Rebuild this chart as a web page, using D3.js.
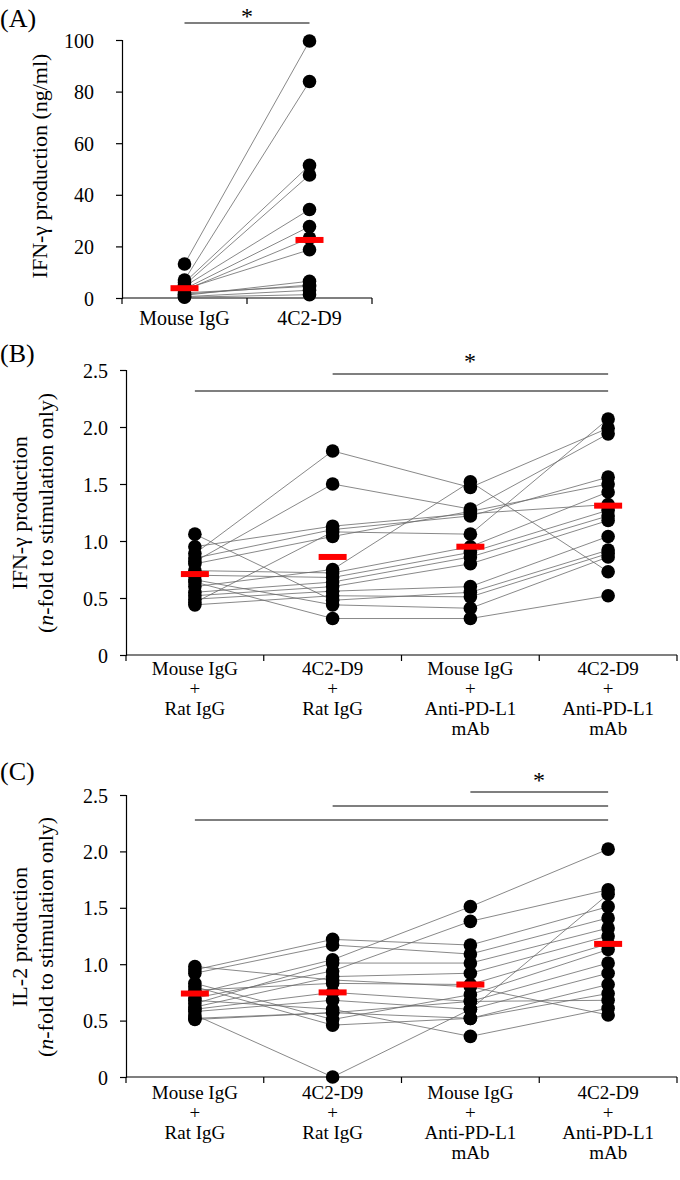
<!DOCTYPE html>
<html><head><meta charset="utf-8">
<script src="https://cdn.jsdelivr.net/npm/d3@7"></script>
<style>body{margin:0;background:#fff}svg{display:block}text{font-family:"Liberation Serif","Times New Roman",serif;fill:#000}</style>
</head><body>
<svg id="c" width="680" height="1180"></svg>
<script>
// ---- Panel A data ----
const catsA = ["Mouse IgG", "4C2-D9"];
const aMouse = [13.2, 7, 6, 5, 4.5, 3.5, 3, 3.5, 1, 2, 0.5, 0.3, 1.5];
const a4C2   = [99.6, 83.9, 51.4, 47.7, 34.3, 27.7, 23.2, 18.7, 6.5, 4.5, 3, 1.3, 5];
const medA = [3.8, 22.5];
const ticksA = [0, 20, 40, 60, 80, 100];

// ---- Panel B/C categories ----
const catsBC = [["Mouse IgG", "+", "Rat IgG"], ["4C2-D9", "+", "Rat IgG"], ["Mouse IgG", "+", "Anti-PD-L1", "mAb"], ["4C2-D9", "+", "Anti-PD-L1", "mAb"]];
const ticksBC = [0, 0.5, 1.0, 1.5, 2.0, 2.5];

// ---- Panel B data (per group, subjects in same order) ----
const b1 = [0.89, 0.82, 1.06, 0.64, 0.46, 0.95, 0.85, 0.80, 0.60, 0.74, 0.70, 0.55, 0.52, 0.49, 0.44, 0.66];
const b2 = [1.79, 1.50, 0.48, 0.32, 1.08, 1.13, 1.10, 1.04, 0.75, 0.72, 0.68, 0.64, 0.60, 0.56, 0.52, 0.44];
const b3 = [1.47, 1.28, 0.55, 0.32, 1.06, 1.24, 1.22, 1.26, 1.52, 0.95, 0.90, 0.86, 0.80, 0.60, 0.51, 0.41];
const b4 = [1.99, 1.94, 0.92, 0.52, 2.07, 1.32, 1.56, 1.50, 0.73, 1.43, 1.27, 1.22, 1.18, 1.04, 0.89, 0.86];
const medB = [0.71, 0.86, 0.95, 1.31];

// ---- Panel C data ----
const c1 = [0.95, 0.92, 0.83, 0.80, 0.55, 0.74, 0.70, 0.65, 0.62, 0.77, 0.60, 0.58, 0.52, 0.68, 0.51, 0.98];
const c2 = [1.22, 1.17, 0.51, 0.46, 0.00, 1.04, 0.94, 1.01, 0.89, 0.83, 0.75, 0.68, 0.57, 0.60, 0.57, 0.86];
const c3 = [1.17, 1.09, 0.73, 0.52, 0.60, 1.51, 1.38, 1.01, 0.92, 0.82, 0.67, 0.60, 0.52, 0.36, 0.67, 0.80];
const c4 = [1.51, 1.41, 1.13, 0.82, 1.62, 2.02, 1.66, 1.32, 1.25, 1.18, 1.01, 0.92, 0.74, 0.61, 0.68, 0.55];
const medC = [0.74, 0.75, 0.82, 1.18];

const svg = d3.select("#c");
const TICK_FS = 20, TITLE_FS = 22;

function panel(opts) {
  const {x0, x1, yTop, yBot, cats, domain, ticks, fmt, series, med, sig, title, label, labelY, titleX, catLabelY} = opts;
  const g = svg.append("g");
  const x = d3.scaleBand().domain(d3.range(cats.length)).range([x0, x1]);
  const y = d3.scaleLinear().domain(domain).range([yBot, yTop]);
  const cx = i => x(i) + x.bandwidth() / 2;
  // y axis
  const ya = d3.axisLeft(y).tickValues(ticks).tickFormat(fmt).tickSize(6).tickPadding(opts.tickPad || 8);
  const yg = g.append("g").attr("transform", `translate(${x0},0)`).call(ya);
  yg.select(".domain").attr("stroke", "#000").attr("stroke-width", 1.2);
  yg.selectAll(".tick line").attr("stroke", "#000").attr("stroke-width", 1.2);
  yg.selectAll(".tick text").attr("font-size", TICK_FS).attr("font-family", '"Liberation Serif",serif').attr("dy", "0.35em");
  // x axis
  g.append("line").attr("x1", x0).attr("x2", x1).attr("y1", yBot).attr("y2", yBot).attr("stroke", "#000").attr("stroke-width", 1.2);
  d3.range(cats.length + 1).forEach(i => {
    const xx = i < cats.length ? x(i) : x1;
    g.append("line").attr("x1", xx).attr("x2", xx).attr("y1", yBot).attr("y2", yBot + 6).attr("stroke", "#000").attr("stroke-width", 1.2);
  });
  // category labels
  cats.forEach((c, i) => {
    const lines = Array.isArray(c) ? c : [c];
    lines.forEach((t, k) => {
      g.append("text").attr("x", cx(i)).attr("y", catLabelY + k * 20).attr("text-anchor", "middle").attr("font-size", opts.catFs).text(t);
    });
  });
  // subject lines
  const n = series[0].length;
  const line = d3.line().x(d => cx(d[0])).y(d => y(d[1]));
  for (let s = 0; s < n; s++) {
    const pts = series.map((arr, i) => [i, arr[s]]);
    g.append("path").attr("d", line(pts)).attr("fill", "none").attr("stroke", "#6a6a6a").attr("stroke-width", 0.8);
  }
  // dots
  series.forEach((arr, i) => {
    g.selectAll(null).data(arr).enter().append("circle")
      .attr("cx", cx(i)).attr("cy", d => y(d)).attr("r", 6.8).attr("fill", "#000");
  });
  // medians
  med.forEach((m, i) => {
    g.append("rect").attr("x", cx(i) - 14).attr("y", y(m) - 3).attr("width", 28).attr("height", 6).attr("fill", "#ff0000");
  });
  // significance
  sig.forEach(s => {
    g.append("line").attr("x1", cx(s.from)).attr("x2", cx(s.to)).attr("y1", s.y).attr("y2", s.y).attr("stroke", "#555").attr("stroke-width", 1.4);
  });
  if (opts.star) {
    g.append("text").attr("x", opts.star.x).attr("y", opts.star.y).attr("text-anchor", "middle").attr("font-size", 24).text("*");
  }
  // y title
  const tg = g.append("text").attr("transform", `translate(0,${opts.titleY}) rotate(-90)`).attr("text-anchor", "middle").attr("font-size", TITLE_FS);
  title.forEach((t, k) => {
    const ts = tg.append("tspan").attr("x", 0).attr("y", titleX[k]);
    t.forEach(part => {
      ts.append("tspan").attr("font-style", part.it ? "italic" : "normal").text(part.t);
    });
  });
  svg.append("text").attr("x", 0).attr("y", labelY).attr("font-size", 26).text(label);
  return {x, y, cx};
}

// Panel A
panel({x0: 122, x1: 372, yTop: 40, yBot: 298, cats: catsA, domain: [0, 100], ticks: ticksA, fmt: d3.format("d"),
  series: [aMouse, a4C2], med: medA, sig: [{from: 0, to: 1, y: 23}], star: {x: 247, y: 24}, catFs: 20,
  title: [[{t: "IFN-γ production (ng/ml)"}]], titleX: [47], titleY: 166, label: "(A)", labelY: 27, catLabelY: 325, tickPad: 22});

// Panel B
panel({x0: 126, x1: 677, yTop: 370, yBot: 655, cats: catsBC, domain: [0, 2.5], ticks: ticksBC, fmt: d => d === 0 ? "0" : d3.format(".1f")(d),
  series: [b1, b2, b3, b4], med: medB, sig: [{from: 0, to: 3, y: 391}, {from: 1, to: 3, y: 374}], star: {x: 470, y: 369}, catFs: 19,
  title: [[{t: "IFN-γ production"}], [{t: "("}, {t: "n", it: true}, {t: "-fold to stimulation only)"}]], titleX: [27, 53], titleY: 513,
  label: "(B)", labelY: 362, catLabelY: 675, tickPad: 12});

// Panel C
panel({x0: 126, x1: 677, yTop: 795, yBot: 1077, cats: catsBC, domain: [0, 2.5], ticks: ticksBC, fmt: d => d === 0 ? "0" : d3.format(".1f")(d),
  series: [c1, c2, c3, c4], med: medC, sig: [{from: 0, to: 3, y: 820}, {from: 1, to: 3, y: 806}, {from: 2, to: 3, y: 792}], star: {x: 539, y: 788}, catFs: 19,
  title: [[{t: "IL-2 production"}], [{t: "("}, {t: "n", it: true}, {t: "-fold to stimulation only)"}]], titleX: [27, 53], titleY: 937,
  label: "(C)", labelY: 780, catLabelY: 1099, tickPad: 12});
</script>
</body></html>
